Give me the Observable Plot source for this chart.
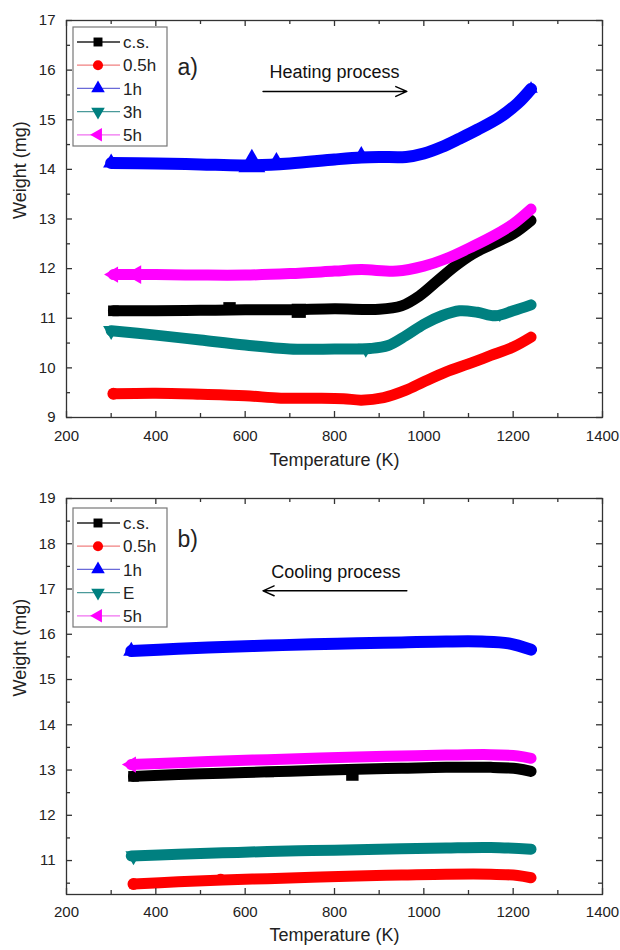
<!DOCTYPE html>
<html>
<head>
<meta charset="utf-8">
<script src="https://cdn.jsdelivr.net/npm/d3@7"></script>
<script src="https://cdn.jsdelivr.net/npm/@observablehq/plot@0.6"></script>
<style>
  body { margin: 0; background: #fff; }
  #chart svg { display: block; }
</style>
</head>
<body>
<div id="chart"></div>
<script>
// ---- series definitions ----
const heatingSeries = ["c.s.", "0.5h", "1h", "3h", "5h"];
const coolingSeries = ["c.s.", "0.5h", "1h", "E", "5h"];
const seriesColors = ["#000000", "#ff0000", "#0000ff", "#008080", "#ff00ff"];
const legendLineColors = ["#222222", "#f08080", "#6a6ad8", "#4a9a9a", "#f070f0"];
const seriesSymbols = ["square", "circle", "triangle", "triangle", "triangle"];
const seriesRotate = [0, 0, 0, 180, -90];

// ---- axis ticks ----
const xTicks = [200, 400, 600, 800, 1000, 1200, 1400];
const xMinorTicks = [300, 500, 700, 900, 1100, 1300];
const yTicksA = [9, 10, 11, 12, 13, 14, 15, 16, 17];
const yMinorA = [9.5, 10.5, 11.5, 12.5, 13.5, 14.5, 15.5, 16.5];
const yTicksB = [11, 12, 13, 14, 15, 16, 17, 18, 19];
const yMinorB = [10.5, 11.5, 12.5, 13.5, 14.5, 15.5, 16.5, 17.5, 18.5];

// ---- a) heating process: [temperature K, weight mg] ----
const heatCS = [[305,11.15],[400,11.15],[500,11.16],[600,11.17],[700,11.17],[800,11.19],[900,11.18],[950,11.25],[990,11.45],[1030,11.75],[1070,12.05],[1110,12.3],[1150,12.48],[1200,12.7],[1240,12.97]];
const heat05 = [[305,9.48],[400,9.49],[500,9.47],[600,9.44],[680,9.39],[760,9.39],[820,9.38],[860,9.35],[910,9.4],[960,9.55],[1000,9.72],[1050,9.92],[1100,10.08],[1150,10.25],[1200,10.42],[1240,10.62]];
const heat1 = [[300,14.13],[400,14.12],[500,14.1],[600,14.08],[700,14.12],[800,14.2],[860,14.24],[900,14.25],[960,14.25],[1000,14.32],[1040,14.45],[1080,14.62],[1120,14.8],[1170,15.05],[1210,15.33],[1240,15.62]];
const heat3 = [[300,10.75],[400,10.66],[500,10.56],[600,10.46],[700,10.38],[800,10.38],[880,10.39],[920,10.45],[960,10.65],[1000,10.88],[1040,11.05],[1080,11.15],[1120,11.12],[1160,11.05],[1200,11.15],[1240,11.27]];
const heat5 = [[305,11.88],[400,11.88],[500,11.87],[600,11.87],[700,11.9],[800,11.95],[860,11.98],[940,11.95],[1000,12.05],[1050,12.2],[1110,12.45],[1160,12.68],[1200,12.9],[1240,13.2]];
const heatingCurves = [heatCS, heat05, heat1, heat3, heat5];

// individual markers standing out of the bands: [series index, T, W, radius]
const heatingMarkers = [
  [0, 305, 11.15, 6], [0, 565, 11.2, 7], [0, 720, 11.15, 8],
  [1, 305, 9.48, 6],
  [2, 300, 14.13, 6], [2, 615, 14.1, 10], [2, 670, 14.13, 7], [2, 860, 14.25, 7], [2, 1240, 15.62, 5],
  [3, 300, 10.75, 6], [3, 870, 10.39, 6], [3, 1170, 11.08, 5],
  [4, 305, 11.88, 6], [4, 355, 11.88, 7]
];

// ---- b) cooling process ----
const coolCS = [[350,12.86],[450,12.9],[550,12.93],[650,12.96],[750,12.99],[850,13.02],[950,13.04],[1050,13.06],[1150,13.06],[1210,13.03],[1240,12.97]];
const cool05 = [[350,10.48],[450,10.53],[550,10.57],[650,10.6],[750,10.63],[850,10.66],[950,10.68],[1050,10.7],[1150,10.7],[1210,10.67],[1240,10.62]];
const cool1 = [[345,15.63],[450,15.68],[550,15.72],[650,15.75],[750,15.78],[850,15.8],[950,15.82],[1050,15.84],[1130,15.84],[1190,15.8],[1240,15.66]];
const coolE = [[345,11.1],[450,11.14],[550,11.17],[650,11.2],[750,11.22],[850,11.24],[950,11.26],[1050,11.28],[1150,11.29],[1240,11.25]];
const cool5 = [[345,13.12],[450,13.16],[550,13.2],[650,13.23],[750,13.26],[850,13.29],[950,13.31],[1050,13.33],[1150,13.34],[1210,13.31],[1240,13.26]];
const coolingCurves = [coolCS, cool05, cool1, coolE, cool5];

const coolingMarkers = [
  [0, 350, 12.86, 6], [0, 655, 12.94, 5], [0, 840, 12.9, 7],
  [1, 350, 10.48, 6], [1, 545, 10.6, 5],
  [2, 345, 15.63, 6],
  [3, 350, 11.1, 6],
  [4, 345, 13.12, 6]
];

// ---- process annotations ----
const heatingNote = [{text: "Heating process", T: 800, W: 15.95}];
const heatingArrow = [{T1: 640, T2: 962, W: 15.57}];
const coolingNote = [{text: "Cooling process", T: 803, W: 17.38}];
const coolingArrow = [{T1: 962, T2: 640, W: 16.96}];

const FONT = "'Liberation Sans', Arial, sans-serif";
const W_SVG = 620, H_SVG = 475, ML = 66, MR = 18;

function rowsOf(curves, names) {
  return curves.flatMap((pts, i) => pts.map(([T, W]) => ({series: names[i], k: i, T, W})));
}
function markersOf(list, names) {
  return list.map(([k, T, W, r]) => ({series: names[k], k, T, W, r}));
}

function panel({curves, markers, names, yDomain, yTicks, yMinor, marginTop, marginBottom,
                tickPad, titleDy, letter, letterDy, note, arrow, legendTop}) {
  const innerH = H_SVG - marginTop - marginBottom;
  const innerW = W_SVG - ML - MR;
  const axisStyle = {stroke: "#333", strokeWidth: 1.3};
  const plot = Plot.plot({
    width: W_SVG, height: H_SVG,
    marginLeft: ML, marginRight: MR, marginTop, marginBottom,
    x: {domain: [200, 1400]},
    y: {domain: yDomain},
    r: {type: "identity"},
    style: {fontFamily: FONT, fontSize: "15px", color: "#222", background: "white"},
    marks: [
      // data bands
      Plot.line(rowsOf(curves, names), {
        x: "T", y: "W", z: "series", stroke: d => seriesColors[d.k],
        strokeWidth: d => (d.k === 2 ? 12 : 11), curve: "catmull-rom", strokeLinejoin: "round"
      }),
      Plot.dot(markersOf(markers, names), {
        x: "T", y: "W", r: "r", fill: d => seriesColors[d.k], stroke: "none",
        symbol: d => seriesSymbols[d.k], rotate: d => seriesRotate[d.k]
      }),
      // frame + inward ticks on all four sides
      Plot.frame(axisStyle),
      Plot.tickX(xTicks, {x: d => d, insetTop: innerH - 6, ...axisStyle}),
      Plot.tickX(xTicks, {x: d => d, insetBottom: innerH - 6, ...axisStyle}),
      Plot.tickX(xMinorTicks, {x: d => d, insetTop: innerH - 4, ...axisStyle}),
      Plot.tickX(xMinorTicks, {x: d => d, insetBottom: innerH - 4, ...axisStyle}),
      Plot.tickY(yTicks, {y: d => d, insetRight: innerW - 6, ...axisStyle}),
      Plot.tickY(yTicks, {y: d => d, insetLeft: innerW - 6, ...axisStyle}),
      Plot.tickY(yMinor, {y: d => d, insetRight: innerW - 4, ...axisStyle}),
      Plot.tickY(yMinor, {y: d => d, insetLeft: innerW - 4, ...axisStyle}),
      Plot.axisX(xTicks, {tickSize: 0, tickPadding: tickPad, label: null, fontSize: 15, tickFormat: d => String(d)}),
      Plot.axisY(yTicks, {tickSize: 0, tickPadding: 11, label: null, fontSize: 15, tickFormat: d => String(d)}),
      // axis titles
      Plot.text(["Temperature (K)"], {frameAnchor: "bottom", dy: titleDy, fontSize: 18, fill: "#222"}),
      Plot.text(["Weight (mg)"], {frameAnchor: "left", dx: -46, rotate: -90, fontSize: 18, fill: "#222"}),
      // panel letter
      Plot.text([letter], {frameAnchor: "top-left", dx: 111, dy: letterDy, textAnchor: "start", fontSize: 23, fill: "#222"}),
      // process annotation
      Plot.text(note, {x: "T", y: "W", text: "text", fontSize: 18, fill: "#111"}),
      Plot.arrow(arrow, {x1: "T1", x2: "T2", y1: "W", y2: "W", stroke: "#000", strokeWidth: 1.4, headLength: 13, headAngle: 48})
    ]
  });

  // legend box
  const g = d3.select(plot).append("g")
    .attr("font-family", FONT).attr("font-size", 17).attr("fill", "#222").attr("text-anchor", "start");
  const lx = 73, ly = legendTop;
  g.append("rect").attr("x", lx).attr("y", ly).attr("width", 94).attr("height", 119)
    .attr("fill", "white").attr("stroke", "#777").attr("stroke-width", 1.2);
  names.forEach((name, i) => {
    const cy = ly + 15 + i * 23.2;
    g.append("line").attr("x1", lx + 4).attr("x2", lx + 47).attr("y1", cy).attr("y2", cy)
      .attr("stroke", legendLineColors[i]).attr("stroke-width", 1.3);
    const shape = {square: d3.symbolSquare, circle: d3.symbolCircle, triangle: d3.symbolTriangle}[seriesSymbols[i]];
    g.append("path").attr("d", d3.symbol(shape, 80)())
      .attr("transform", `translate(${lx + 25},${cy}) rotate(${seriesRotate[i]})`)
      .attr("fill", seriesColors[i]);
    g.append("text").attr("x", lx + 50).attr("y", cy).attr("dy", "0.36em").text(name);
  });
  return plot;
}

const chart = document.getElementById("chart");
chart.append(panel({
  curves: heatingCurves, markers: heatingMarkers, names: heatingSeries,
  yDomain: [9, 17], yTicks: yTicksA, yMinor: yMinorA,
  marginTop: 20, marginBottom: 58, tickPad: 13, titleDy: 48,
  letter: "a)", letterDy: 38, note: heatingNote, arrow: heatingArrow, legendTop: 27
}));
chart.append(panel({
  curves: coolingCurves, markers: coolingMarkers, names: coolingSeries,
  yDomain: [10.25, 19], yTicks: yTicksB, yMinor: yMinorB,
  marginTop: 23, marginBottom: 56, tickPad: 12, titleDy: 46,
  letter: "b)", letterDy: 32, note: coolingNote, arrow: coolingArrow, legendTop: 33
}));
</script>
</body>
</html>
